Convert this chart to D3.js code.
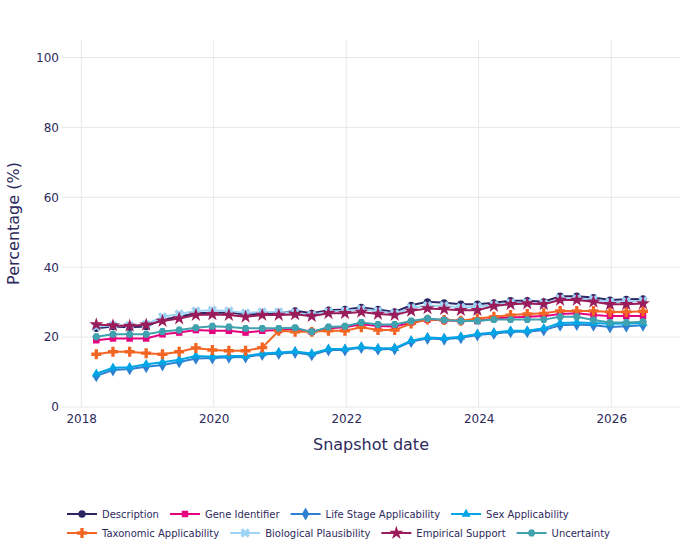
<!DOCTYPE html>
<html>
<head>
<meta charset="utf-8">
<script src="https://cdn.jsdelivr.net/npm/d3@7"></script>
<style>
  body { margin: 0; background: #fff; }
  svg { font-family: "DejaVu Sans", sans-serif; }
</style>
</head>
<body>
<svg width="700" height="560"></svg>
<script>
// quarterly snapshots
const dates = [
  "2018-03-25", "2018-06-25", "2018-09-25", "2018-12-25",
  "2019-03-25", "2019-06-25", "2019-09-25", "2019-12-25",
  "2020-03-25", "2020-06-25", "2020-09-25", "2020-12-25",
  "2021-03-25", "2021-06-25", "2021-09-25", "2021-12-25",
  "2022-03-25", "2022-06-25", "2022-09-25", "2022-12-25",
  "2023-03-25", "2023-06-25", "2023-09-25", "2023-12-25",
  "2024-03-25", "2024-06-25", "2024-09-25", "2024-12-25",
  "2025-03-25", "2025-06-25", "2025-09-25", "2025-12-25",
  "2026-03-25", "2026-06-25"
]

const description = [22.5, 23.0, 22.8, 23.0, 25.0, 25.8, 26.8, 27.0, 27.0, 26.5, 26.7, 26.8,
  27.5, 26.8, 27.7, 27.9, 28.5, 27.9, 27.2, 29.1, 30.1, 29.8, 29.4, 29.4,
  29.8, 30.4, 30.4, 30.1, 31.7, 31.7, 31.3, 30.6, 30.8, 30.9]
const geneIdentifier = [19.1, 19.6, 19.6, 19.6, 20.8, 21.3, 22.0, 21.8, 21.8, 21.3, 21.8, 22.0,
  22.3, 21.5, 22.5, 22.8, 23.7, 23.2, 23.0, 24.2, 25.0, 24.8, 24.6, 24.6,
  25.3, 25.6, 25.8, 26.0, 26.6, 26.8, 26.3, 26.0, 26.0, 26.0]
const lifeStage = [8.9, 10.6, 10.9, 11.5, 12.0, 12.9, 13.9, 14.0, 14.2, 14.3, 15.0, 15.3,
  15.6, 14.9, 16.3, 16.3, 17.0, 16.5, 16.6, 18.7, 19.6, 19.4, 19.8, 20.6,
  21.0, 21.5, 21.5, 22.0, 23.4, 23.6, 23.4, 22.9, 23.1, 23.4]
const sexApplicability = [9.5, 11.2, 11.4, 12.2, 12.8, 13.5, 14.6, 14.4, 14.6, 14.6, 15.3, 15.6,
  15.9, 15.3, 16.6, 16.6, 17.2, 16.8, 16.8, 19.0, 19.9, 19.7, 20.1, 20.9,
  21.3, 21.8, 21.8, 22.5, 24.0, 24.2, 24.0, 23.8, 23.9, 24.0]
const taxonomic = [15.1, 15.8, 15.8, 15.4, 15.1, 15.8, 16.9, 16.3, 16.1, 16.1, 17.0, 21.8,
  21.5, 21.5, 21.8, 21.8, 22.8, 22.0, 22.0, 23.9, 25.0, 24.9, 24.7, 25.3,
  25.8, 26.3, 26.6, 26.8, 27.5, 27.5, 27.5, 27.2, 27.2, 27.4]
const bioPlausibility = [23.0, 23.3, 23.3, 23.6, 25.8, 26.6, 27.5, 27.7, 27.5, 26.9, 27.2, 27.2,
  27.0, 26.3, 27.3, 27.5, 28.0, 27.5, 26.7, 28.4, 29.0, 29.0, 28.5, 28.7,
  29.2, 29.8, 29.8, 29.5, 31.0, 31.0, 30.8, 30.0, 30.2, 30.4]
const empiricalSupport = [23.6, 23.3, 23.2, 23.5, 24.6, 25.3, 26.3, 26.5, 26.3, 25.8, 26.3, 26.3,
  26.5, 26.0, 26.8, 26.8, 27.2, 26.6, 26.3, 27.5, 28.2, 28.0, 27.7, 27.7,
  28.9, 29.4, 29.6, 29.4, 30.6, 30.6, 30.1, 29.4, 29.4, 29.6]
const uncertainty = [20.1, 20.8, 20.8, 20.8, 21.6, 22.0, 22.7, 23.1, 22.9, 22.5, 22.5, 22.5,
  22.7, 21.5, 22.9, 23.1, 24.2, 23.6, 23.6, 24.6, 25.3, 24.9, 24.6, 24.6,
  25.0, 25.0, 25.0, 25.0, 25.8, 25.8, 24.9, 24.2, 24.2, 24.4]

const seriesNames = ["Description", "Gene Identifier", "Life Stage Applicability", "Sex Applicability",
  "Taxonomic Applicability", "Biological Plausibility", "Empirical Support", "Uncertainty"]
const seriesValues = [description, geneIdentifier, lifeStage, sexApplicability,
  taxonomic, bioPlausibility, empiricalSupport, uncertainty]
const colors = ["#2b2562", "#e5007e", "#2f80d0", "#00a5e6", "#f26522", "#9dd3f4", "#9a1c5a", "#3fa2ae"]

const yTicks = [0, 20, 40, 60, 80, 100]
const xTickYears = ["2018", "2020", "2022", "2024", "2026"]
const xDomain = ["2017-09-17", "2027-01-15"]

const parse = d3.timeParse("%Y-%m-%d")
const textColor = "#2d2a5c"

// hexagon for uncertainty
const symbolHexagon = {
  draw(context, size) {
    const r = Math.sqrt(size / 2.598)
    for (let k = 0; k < 6; k++) {
      const a = Math.PI / 3 * k
      const px = r * Math.cos(a), py = r * Math.sin(a)
      if (k === 0) context.moveTo(px, py)
      else context.lineTo(px, py)
    }
    context.closePath()
  }
}
const shapes = [
  { type: d3.symbolCircle, size: 42 },
  { type: d3.symbolSquare, size: 42 },
  { type: d3.symbolDiamond, size: 48 },
  { type: d3.symbolTriangle, size: 36 },
  { type: d3.symbolCross, size: 55 },
  { type: d3.symbolCross, size: 55, rotate: 45 },
  { type: d3.symbolStar, size: 60 },
  { type: symbolHexagon, size: 42 }
]

const svg = d3.select("svg")
const margin = { left: 62, right: 20, top: 40, bottom: 153 }
const width = +svg.attr("width")
const height = +svg.attr("height")

const x = d3.scaleTime()
  .domain(xDomain.map(parse))
  .range([margin.left, width - margin.right])
const y = d3.scaleLinear()
  .domain([0, 105])
  .range([height - margin.bottom, margin.top])

// grid
const grid = svg.append("g").attr("stroke", "#e8e8e8").attr("stroke-width", 1)
grid.selectAll(".hg")
  .data(yTicks)
  .enter()
  .append("line")
  .attr("x1", margin.left)
  .attr("x2", width - margin.right)
  .attr("y1", (d) => y(d))
  .attr("y2", (d) => y(d))
grid.selectAll(".vg")
  .data(xTickYears)
  .enter()
  .append("line")
  .attr("x1", (d) => x(parse(d + "-01-01")))
  .attr("x2", (d) => x(parse(d + "-01-01")))
  .attr("y1", margin.top)
  .attr("y2", height - margin.bottom)

// axes, no domain lines or ticks
svg.append("g")
  .attr("transform", "translate(" + (margin.left - 3) + ",0)")
  .call(d3.axisLeft(y).tickValues(yTicks).tickSize(0).tickPadding(0))
svg.append("g")
  .attr("transform", "translate(0," + (height - margin.bottom + 4) + ")")
  .call(d3.axisBottom(x).tickValues(xTickYears.map((d) => parse(d + "-01-01")))
    .tickFormat(d3.timeFormat("%Y")).tickSize(0).tickPadding(3))
svg.selectAll(".domain").remove()
svg.selectAll(".tick text")
  .attr("fill", textColor)
  .style("font-size", "12px")
  .style("font-family", "'DejaVu Sans', sans-serif")

svg.append("text")
  .attr("transform", "translate(19," + y(52.5) + ") rotate(-90)")
  .attr("text-anchor", "middle")
  .attr("fill", textColor)
  .style("font-size", "16px")
  .text("Percentage (%)")
svg.append("text")
  .attr("x", (margin.left + width - margin.right) / 2)
  .attr("y", 450)
  .attr("text-anchor", "middle")
  .attr("fill", textColor)
  .style("font-size", "16px")
  .text("Snapshot date")

// lines + markers
const line = d3.line()
  .x((d, i) => x(parse(dates[i])))
  .y((d) => y(d))

const plot = svg.append("g")
seriesValues.forEach((vals, s) => {
  const g = plot.append("g")
  g.append("path")
    .datum(vals)
    .attr("fill", "none")
    .attr("stroke", colors[s])
    .attr("stroke-width", 2)
    .attr("d", line)
  const sym = d3.symbol().type(shapes[s].type).size(shapes[s].size)
  g.selectAll("path.m")
    .data(vals)
    .enter()
    .append("path")
    .attr("class", "m")
    .attr("d", sym)
    .attr("fill", colors[s])
    .attr("transform", (d, i) => "translate(" + x(parse(dates[i])) + "," + y(d) + ")" +
      (shapes[s].rotate ? " rotate(" + shapes[s].rotate + ")" : ""))
})

// legend, two rows of four
const legend = svg.append("g")
const rows = [[0, 1, 2, 3], [4, 5, 6, 7]]
rows.forEach((row, r) => {
  let cx = 67
  const ly = 514 + r * 19
  row.forEach((s) => {
    const item = legend.append("g").attr("transform", "translate(" + cx + "," + ly + ")")
    item.append("line")
      .attr("x1", 0).attr("x2", 30)
      .attr("stroke", colors[s]).attr("stroke-width", 2)
    item.append("path")
      .attr("d", d3.symbol().type(shapes[s].type).size(shapes[s].size))
      .attr("fill", colors[s])
      .attr("transform", "translate(15,0)" + (shapes[s].rotate ? " rotate(" + shapes[s].rotate + ")" : ""))
    const t = item.append("text")
      .attr("x", 35)
      .attr("dy", "0.35em")
      .attr("fill", textColor)
      .style("font-size", "10px")
      .text(seriesNames[s])
    cx += 35 + t.node().getComputedTextLength() + 11
  })
})
</script>
</body>
</html>
